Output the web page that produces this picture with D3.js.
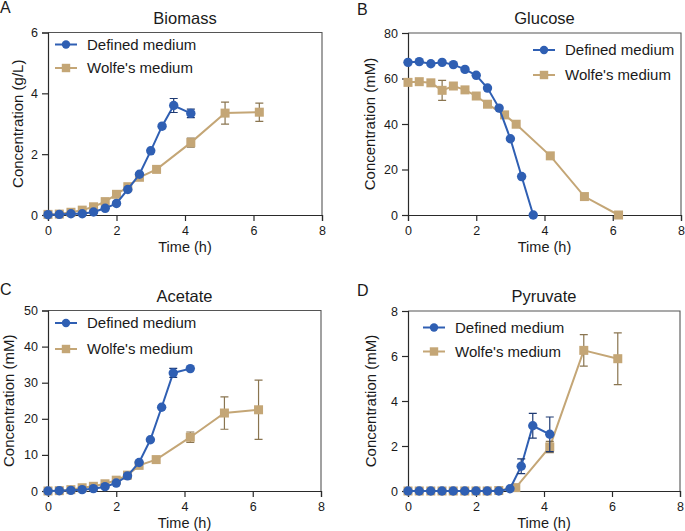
<!DOCTYPE html>
<html><head><meta charset="utf-8">
<script src="https://cdn.jsdelivr.net/npm/d3@7"></script>
<style>body{margin:0;background:#fff}svg{display:block}text{font-family:"Liberation Sans",Arial,sans-serif;fill:#1a1a1a}</style>
</head><body><svg id="c" width="685" height="531"></svg>
<script>
// ---- data ----
const timeDefined = [0,0.33,0.67,1,1.33,1.67,2,2.33,2.67,3,3.33,3.67,4.17];
const timeWolfe = [0,0.33,0.67,1,1.33,1.67,2,2.33,2.67,3.17,4.17,5.17,6.17];
const timeDefinedGlucose = [0,0.33,0.67,1,1.33,1.67,2,2.33,2.67,3,3.33,3.67];
const timeWolfeGlucose = [0,0.33,0.67,1,1.33,1.67,2,2.33,2.83,3.17,4.17,5.17,6.17];

const biomassDefined = [0.01,0.02,0.04,0.04,0.1,0.22,0.38,0.84,1.34,2.11,2.92,3.6,3.34];
const biomassDefinedErr = [0,0,0,0,0,0,0,0,0,0,0,0.23,0.14];
const biomassWolfe = [0.02,0.03,0.09,0.16,0.27,0.44,0.68,0.93,1.24,1.5,2.38,3.35,3.38];
const biomassWolfeErr = [0,0,0,0,0,0,0,0,0,0,0.15,0.36,0.3];

const glucoseDefined = [67.1,67.4,66.5,67.1,66.1,64.0,61.4,55.8,47.0,33.5,16.9,0];
const glucoseDefinedErr = [0,0,0,0,0,0,0,0,0,0,0,0];
const glucoseWolfe = [58.3,58.6,58.1,54.8,56.7,55.0,52.3,48.7,44.0,39.9,26.0,8.1,0];
const glucoseWolfeErr = [0,0,0,4.4,0,0,0,0,0,0,0,0,0];

const acetateDefined = [0,0.09,0.18,0.37,0.65,1.2,2.2,4.2,7.9,14.2,23.2,32.7,33.9];
const acetateDefinedErr = [0,0,0,0,0,0,0,0,0,0,0,1.25,0];
const acetateWolfe = [0,0.1,0.37,0.9,1.3,2.0,3.0,4.4,7.1,8.7,14.9,21.6,22.5];
const acetateWolfeErr = [0,0,0,0,0,0,0,0,0,0,1.45,4.5,8.2];

const pyruvateDefined = [0,0,0,0,0,0,0,0,0,0.1,1.1,2.9,2.52];
const pyruvateDefinedErr = [0,0,0,0,0,0,0,0,0,0,0.33,0.55,0.77];
const pyruvateWolfe = [0,0,0,0,0,0,0,0,0.02,0.15,1.96,6.25,5.88];
const pyruvateWolfeErr = [0,0,0,0,0,0,0,0,0,0,0.25,0.7,1.15];

const xTicks = [0,2,4,6,8];
const seriesNames = ["Defined medium","Wolfe's medium"];

// ---- styles / layout ----
const BLUE = "#2f5fb3", BLUE_ERR = "#1e3a73";
const TAN = "#c4a676", TAN_ERR = "#8a7550";

const panels = [
  {letter:"A", title:"Biomass", ylab:"Concentration (g/L)", yMax:6, yTicks:[0,2,4,6],
   x0:48, x1:322, y0:32.5, y1:215, letterX:0, letterY:13, ylabX:23, legX:55, legY:44.5, legStep:23.5,
   defined:{t:timeDefined,v:biomassDefined,e:biomassDefinedErr},
   wolfe:{t:timeWolfe,v:biomassWolfe,e:biomassWolfeErr}},
  {letter:"B", title:"Glucose", ylab:"Concentration (mM)", yMax:80, yTicks:[0,20,40,60,80],
   x0:408, x1:681, y0:33, y1:215, letterX:357, letterY:15, ylabX:375, legX:533, legY:50, legStep:25,
   defined:{t:timeDefinedGlucose,v:glucoseDefined,e:glucoseDefinedErr},
   wolfe:{t:timeWolfeGlucose,v:glucoseWolfe,e:glucoseWolfeErr}},
  {letter:"C", title:"Acetate", ylab:"Concentration (mM)", yMax:50, yTicks:[0,10,20,30,40,50],
   x0:48, x1:321, y0:310.5, y1:491, letterX:0, letterY:295, ylabX:14, legX:55, legY:323, legStep:26,
   defined:{t:timeDefined,v:acetateDefined,e:acetateDefinedErr},
   wolfe:{t:timeWolfe,v:acetateWolfe,e:acetateWolfeErr}},
  {letter:"D", title:"Pyruvate", ylab:"Concentration (mM)", yMax:8, yTicks:[0,2,4,6,8],
   x0:408, x1:680, y0:311, y1:491, letterX:357, letterY:296, ylabX:376, legX:423, legY:327.5, legStep:24,
   defined:{t:timeDefined,v:pyruvateDefined,e:pyruvateDefinedErr},
   wolfe:{t:timeWolfe,v:pyruvateWolfe,e:pyruvateWolfeErr}}
];

const svg = d3.select("#c");

panels.forEach(p => {
  const g = svg.append("g");
  const x = d3.scaleLinear().domain([0,8]).range([p.x0,p.x1]);
  const y = d3.scaleLinear().domain([0,p.yMax]).range([p.y1,p.y0]);

  // box top/right
  g.append("path").attr("d",`M${p.x0},${p.y0}H${p.x1}V${p.y1}`)
    .attr("fill","none").attr("stroke","#555").attr("stroke-width",1.1);

  const xa = g.append("g").attr("transform",`translate(0,${p.y1})`)
    .call(d3.axisBottom(x).tickValues(xTicks).tickSize(6).tickPadding(5).tickFormat(d3.format("d")));
  const ya = g.append("g").attr("transform",`translate(${p.x0},0)`)
    .call(d3.axisLeft(y).tickValues(p.yTicks).tickSize(6).tickPadding(4).tickFormat(d3.format("d")));
  [xa,ya].forEach(a=>{
    a.select(".domain").attr("stroke","#2a2a2a").attr("stroke-width",1.2);
    a.selectAll(".tick line").attr("stroke","#2a2a2a").attr("stroke-width",1.2);
    a.selectAll(".tick text").attr("font-size",12.5).style("font-family","'Liberation Sans',Arial,sans-serif").attr("fill","#1a1a1a");
  });

  // titles
  g.append("text").attr("x",(p.x0+p.x1)/2).attr("y",p.y0-9).attr("text-anchor","middle")
    .attr("font-size",16.5).text(p.title);
  g.append("text").attr("x",p.letterX).attr("y",p.letterY).attr("font-size",16).text(p.letter);
  g.append("text").attr("x",(p.x0+p.x1)/2).attr("y",p.y1+36.5).attr("text-anchor","middle")
    .attr("font-size",14.5).text("Time (h)");
  g.append("text").attr("transform",`translate(${p.ylabX},${(p.y0+p.y1)/2}) rotate(-90)`)
    .attr("text-anchor","middle").attr("font-size",15).text(p.ylab);

  function drawSeries(s, color, errColor, shape){
    const pts = s.t.map((t,i)=>({t, v:s.v[i], e:s.e[i]}));
    g.append("path").datum(pts)
      .attr("d", d3.line().x(d=>x(d.t)).y(d=>y(d.v)))
      .attr("fill","none").attr("stroke",color).attr("stroke-width",2);
    const eb = pts.filter(d=>d.e>0);
    const eg = g.append("g").attr("stroke",errColor).attr("stroke-width",1.2).attr("fill","none");
    eb.forEach(d=>{
      const cx = x(d.t), yt = y(d.v+d.e), yb = y(d.v-d.e);
      eg.append("path").attr("d",`M${cx},${yt}V${yb}M${cx-4},${yt}H${cx+4}M${cx-4},${yb}H${cx+4}`);
    });
    const mg = g.append("g");
    pts.forEach(d=>{
      if(shape==="circle") mg.append("circle").attr("cx",x(d.t)).attr("cy",y(d.v)).attr("r",4.7).attr("fill",color);
      else mg.append("rect").attr("x",x(d.t)-4.5).attr("y",y(d.v)-4.5).attr("width",9).attr("height",9).attr("fill",color);
    });
  }
  drawSeries(p.wolfe, TAN, TAN_ERR, "square");
  drawSeries(p.defined, BLUE, BLUE_ERR, "circle");

  // legend
  const lg = g.append("g");
  [[BLUE,"circle"],[TAN,"square"]].forEach(([c,shape],i)=>{
    const ly = p.legY + i*p.legStep;
    lg.append("line").attr("x1",p.legX).attr("x2",p.legX+22).attr("y1",ly).attr("y2",ly)
      .attr("stroke",c).attr("stroke-width",2);
    if(shape==="circle") lg.append("circle").attr("cx",p.legX+11).attr("cy",ly).attr("r",4.2).attr("fill",c);
    else lg.append("rect").attr("x",p.legX+11-4.2).attr("y",ly-4.2).attr("width",8.4).attr("height",8.4).attr("fill",c);
    lg.append("text").attr("x",p.legX+32).attr("y",ly+5).attr("font-size",15).text(seriesNames[i]);
  });
});
</script></body></html>
